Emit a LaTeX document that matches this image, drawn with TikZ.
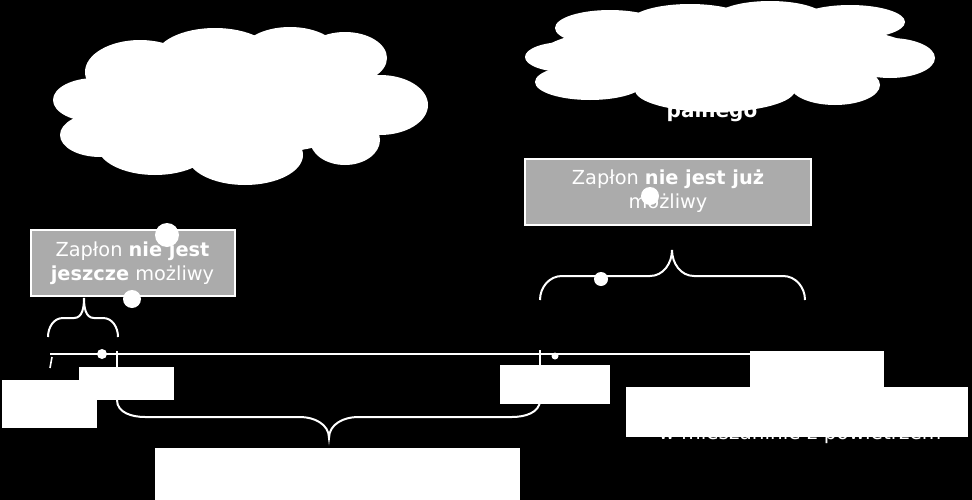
\documentclass[tikz,border=0pt]{standalone}
\usepackage{fontspec}
\setmainfont{DejaVu Sans}
\begin{document}
\begin{tikzpicture}[x=0.75pt,y=-0.75pt,
  greybox/.style={draw=white,line width=1.5pt,fill=black!33,text=white,align=center,inner sep=0pt,font=\fontsize{14.5}{18}\selectfont},
  wbox/.style={fill=white,draw=none},
  dot/.style={fill=white,draw=none},
  brace/.style={draw=white,line width=1.5pt},
  ln/.style={draw=white,line width=1.2pt},
  txt/.style={text=white,font=\fontsize{15}{18}\selectfont}]
\fill[black] (0,0) rectangle (972,500);
\useasboundingbox (0,0) rectangle (972,500);
% texts partially hidden
\node[txt,font=\fontsize{15}{18}\selectfont\bfseries] (t1) at (712,112) {palnego};
\node[txt] (t2) at (800,434) {w mieszaninie z powietrzem};
% clouds
\begin{scope}[fill=white]
\fill (140,72) ellipse (55 and 32); \fill (215,58) ellipse (60 and 30); \fill (290,55) ellipse (50 and 28);
\fill (345,58) ellipse (42 and 26); \fill (380,105) ellipse (48 and 30); \fill (345,140) ellipse (35 and 25);
\fill (245,155) ellipse (58 and 30); \fill (155,145) ellipse (58 and 30); \fill (100,135) ellipse (40 and 22);
\fill (95,100) ellipse (42 and 22); \fill (240,105) ellipse (140 and 50);
\fill (610,28) ellipse (55 and 18); \fill (690,22) ellipse (60 and 18); \fill (770,18) ellipse (55 and 17);
\fill (850,22) ellipse (55 and 17); \fill (890,58) ellipse (45 and 20); \fill (835,85) ellipse (45 and 20);
\fill (715,90) ellipse (80 and 22); \fill (590,82) ellipse (55 and 18); \fill (565,57) ellipse (40 and 15);
\fill (730,55) ellipse (190 and 35);
\end{scope}
% grey boxes
\node[greybox,minimum width=153pt,minimum height=49pt] (g1) at (132.5,263)
  {Zapłon \textbf{nie jest}\\\textbf{jeszcze} możliwy};
\node[greybox,minimum width=215pt,minimum height=49.5pt] (g2) at (668,191.5)
  {Zapłon \textbf{nie jest już}\\możliwy};
% dots
\fill[dot] (167,235) circle (12); \fill[dot] (132,299) circle (9);
\fill[dot] (650,196) circle (9); \fill[dot] (601,279) circle (7);
\fill[dot] (102,354) circle (5); \fill[dot] (555,356) circle (3.5);
% timeline
\coordinate (a) at (50,354); \coordinate (b) at (760,354);
\draw[ln] (a) -- (b);
\draw[ln] (52,357) -- (50,368);
\draw[ln] (117,351) -- (117,400);
\draw[ln] (540,350) -- (540,400);
% braces
\draw[brace] (48,337) to[out=90,in=180] (63,318) -- (74,318) to[out=0,in=-90] (84,298)
  to[out=-90,in=180] (94,318) -- (103,318) to[out=0,in=90] (118,337);
\draw[brace] (540,300) to[out=90,in=180] (562,276) -- (650,276) to[out=0,in=-90] (672,250)
  to[out=-90,in=180] (694,276) -- (783,276) to[out=0,in=90] (805,300);
\draw[brace] (117,400) to[out=-90,in=180] (145,417) -- (300,417) to[out=0,in=90] (329,438)
  to[out=90,in=180] (358,417) -- (512,417) to[out=0,in=-90] (540,400);
% white label boxes
\fill[wbox] (2,380) rectangle (97,428);
\fill[wbox] (79,367) rectangle (174,400);
\fill[wbox] (500,365) rectangle (610,404);
\fill[wbox] (750,351) rectangle (884,388);
\fill[wbox] (626,387) rectangle (968,437);
\fill[wbox] (155,448) rectangle (520,500);
\end{tikzpicture}
\end{document}
